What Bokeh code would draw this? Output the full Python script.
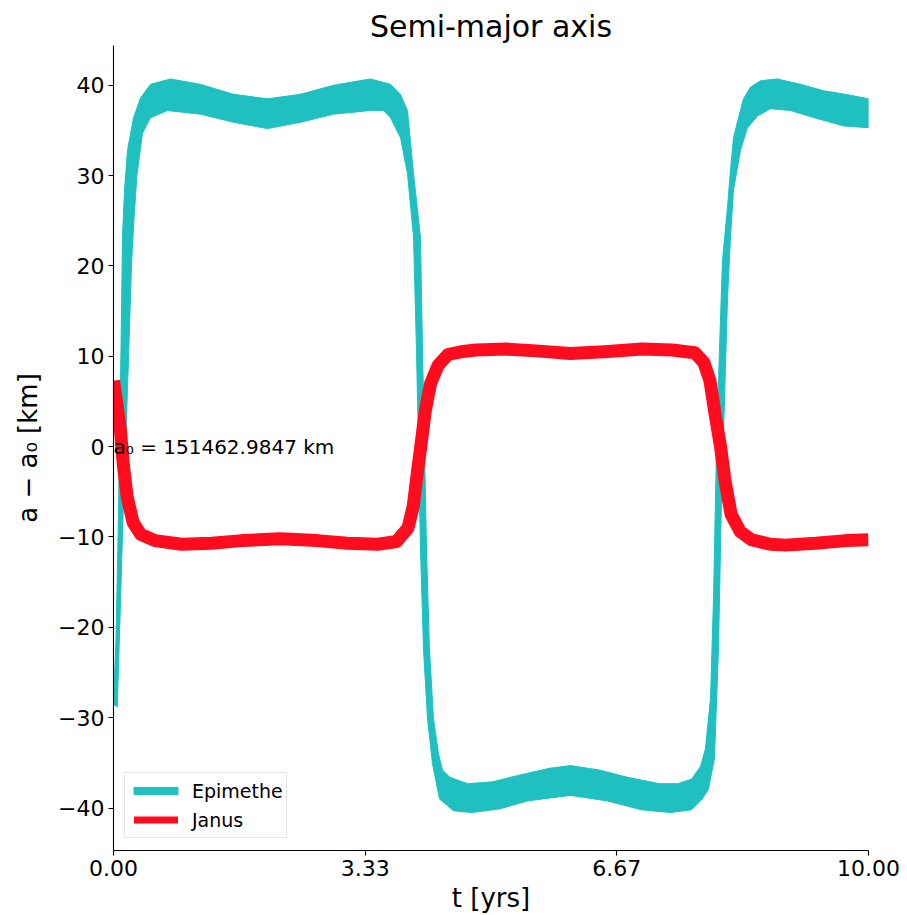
from bokeh.plotting import figure
from bokeh.models import (Range1d, FixedTicker, NumeralTickFormatter, Legend,
                          LegendItem, Label)
from bokeh.embed import file_html
from bokeh.resources import INLINE

# ---------------- data ----------------
# Epimethe: upper edge of the oscillation band (t in yrs, a - a0 in km)
epi_top_t = [0.0, 0.033, 0.060, 0.079, 0.099, 0.119, 0.146, 0.185, 0.265, 0.358,
             0.490, 0.755, 1.152, 1.589, 2.040, 2.477, 2.914, 3.404, 3.669, 3.801,
             3.894, 3.974, 4.066, 4.093, 4.119, 4.146, 4.185, 4.238, 4.305, 4.358,
             4.457, 4.689, 5.020, 5.351, 5.775, 6.053, 6.437, 6.808, 7.232, 7.470,
             7.656, 7.775, 7.841, 7.907, 7.947, 7.987, 8.026, 8.066, 8.132, 8.172,
             8.212, 8.278, 8.344, 8.437, 8.570, 8.791, 9.099, 9.404, 9.762, 10.0]
epi_top_y = [-28.5, -21.3, -10.3, 0.0, 10.7, 23.2, 28.4, 32.8, 36.4, 38.6,
             40.1, 40.7, 40.1, 39.0, 38.5, 39.0, 40.0, 40.7, 40.1, 39.0,
             37.2, 30.2, 23.2, 10.7, 0.0, -11.4, -22.4, -30.1, -34.0, -35.8,
             -36.6, -37.3, -37.1, -36.4, -35.6, -35.3, -35.8, -36.6, -37.3, -37.3,
             -36.8, -35.4, -33.4, -27.9, -16.9, 0.0, 10.7, 20.6, 26.5, 30.6,
             34.2, 36.4, 38.5, 39.8, 40.5, 40.7, 40.1, 39.4, 38.9, 38.5]
# Epimethe: lower edge of the oscillation band
epi_bot_t = [0.0, 0.050, 0.090, 0.125, 0.159, 0.200, 0.238, 0.270, 0.310, 0.384,
             0.490, 0.715, 1.152, 1.589, 2.040, 2.477, 2.914, 3.404, 3.576, 3.669,
             3.801, 3.894, 3.974, 4.013, 4.040, 4.066, 4.106, 4.159, 4.225, 4.318,
             4.503, 4.742, 5.113, 5.491, 6.053, 6.530, 6.993, 7.377, 7.656, 7.797,
             7.881, 7.960, 8.013, 8.053, 8.093, 8.132, 8.172, 8.212, 8.305, 8.397,
             8.530, 8.702, 8.967, 9.325, 9.669, 10.0]
epi_bot_y = [-28.5, -28.8, -18.0, -8.0, 0.0, 10.0, 20.0, 25.0, 30.0, 34.7,
             36.4, 37.2, 36.8, 35.9, 35.2, 35.9, 36.8, 37.2, 37.2, 36.4,
             34.2, 30.2, 23.2, 10.7, 0.0, -11.4, -22.4, -30.1, -35.1, -39.0,
             -40.3, -40.5, -40.1, -39.2, -38.6, -39.2, -40.2, -40.5, -40.2, -39.0,
             -37.9, -34.5, -22.4, -5.8, 5.2, 16.2, 23.2, 28.4, 32.8, 35.3,
             36.6, 37.4, 37.2, 36.3, 35.5, 35.3]
# Janus: centre of its (narrow) band
janus_t = [0.0, 0.04, 0.09, 0.13, 0.18, 0.26, 0.36, 0.55, 0.9, 1.3, 1.7, 2.2, 2.7,
           3.1, 3.5, 3.75, 3.9, 3.97, 4.03, 4.07, 4.13, 4.2, 4.3, 4.43, 4.6, 4.8,
           5.2, 5.6, 6.05, 6.5, 7.0, 7.4, 7.7, 7.82, 7.9, 7.97, 8.04, 8.1, 8.18,
           8.3, 8.45, 8.7, 8.9, 9.3, 9.7, 10.0]
janus_y = [7.3, 5.0, 2.0, -2.0, -5.5, -8.4, -9.7, -10.4, -10.8, -10.7, -10.4, -10.2,
           -10.4, -10.7, -10.8, -10.5, -9.0, -6.6, -2.5, 0.0, 4.0, 7.0, 9.0, 10.2,
           10.5, 10.7, 10.8, 10.6, 10.3, 10.5, 10.8, 10.7, 10.4, 9.3, 7.3, 3.5, 0.0,
           -3.8, -7.5, -9.4, -10.3, -10.8, -10.9, -10.7, -10.4, -10.3]

x_ticks = [0.0, 3.3333, 6.6667, 10.0]
y_ticks = [-40, -30, -20, -10, 0, 10, 20, 30, 40]
y_tick_labels = ["\u221240", "\u221230", "\u221220", "\u221210", "0",
                 "10", "20", "30", "40"]
series_names = ["Epimethe", "Janus"]
a0_text = "a\u2080 = 151462.9847 km"

EPI_COLOR = "#20C0C0"
JAN_COLOR = "#FF0C1E"
FONT = "DejaVu Sans"

p = figure(width=907, height=915, output_backend="svg", toolbar_location=None,
           x_range=Range1d(0, 10), y_range=Range1d(-44.7, 44.4),
           min_border_left=113, min_border_right=39, min_border_top=45,
           min_border_bottom=63, title="Semi-major axis")
p.outline_line_color = None
p.grid.visible = False
p.background_fill_color = "white"
p.border_fill_color = "white"

p.title.text_font = FONT
p.title.text_font_size = "30px"
p.title.text_font_style = "normal"
p.title.align = "center"
p.title.text_color = "black"
p.title.standoff = 4

# Epimethe band as a polygon built from the two edges
band_x = epi_top_t + epi_bot_t[::-1]
band_y = epi_top_y + epi_bot_y[::-1]
epi_r = p.patch(band_x, band_y, fill_color=EPI_COLOR, line_color=EPI_COLOR,
                line_width=1)

# Janus
p.line(janus_t, janus_y, line_color=JAN_COLOR, line_width=13, line_join="round")
# zero-area proxy (invisible on the plot) that gives Janus a bar-like legend swatch
jan_proxy = p.patch(janus_t + janus_t[::-1], janus_y + janus_y[::-1],
                    fill_color=JAN_COLOR, line_color=None, fill_alpha=1.0)

legend = Legend(items=[LegendItem(label=series_names[0], renderers=[epi_r]),
                       LegendItem(label=series_names[1], renderers=[jan_proxy])],
                location=(11, 12), label_text_font=FONT, label_text_font_size="19px",
                label_text_color="black", glyph_width=55, glyph_height=9,
                label_height=29, spacing=0, padding=3, margin=0,
                border_line_color="#cccccc", border_line_width=1,
                background_fill_alpha=0.8, label_standoff=9)
p.add_layout(legend)

# annotation
p.add_layout(Label(x=0, y=0, text=a0_text, text_font=FONT, text_font_size="20px",
                   text_align="left", text_baseline="alphabetic", text_color="black"))

for ax in (p.xaxis[0], p.yaxis[0]):
    ax.major_tick_out = 5
    ax.major_tick_in = 0
    ax.minor_tick_out = 0
    ax.minor_tick_in = 0
    ax.axis_line_width = 1.1
    ax.axis_line_color = "black"
    ax.major_tick_line_width = 1.1
    ax.major_tick_line_color = "black"
    ax.major_label_text_font = FONT
    ax.major_label_text_font_size = "22px"
    ax.major_label_text_color = "black"
    ax.major_label_standoff = 4
    ax.axis_label_text_font = FONT
    ax.axis_label_text_font_size = "26px"
    ax.axis_label_text_font_style = "normal"
    ax.axis_label_text_color = "black"

p.xaxis.ticker = FixedTicker(ticks=x_ticks)
p.xaxis.formatter = NumeralTickFormatter(format="0.00")
p.xaxis.axis_label = "t [yrs]"
p.xaxis.axis_label_standoff = 4

p.yaxis.ticker = FixedTicker(ticks=y_ticks)
p.yaxis.major_label_overrides = {v: s for v, s in zip(y_ticks, y_tick_labels)}
p.yaxis.axis_label = "a \u2212 a\u2080 [km]"
p.yaxis.axis_label_standoff = 12

open("out.html", "w").write(file_html(p, INLINE))
